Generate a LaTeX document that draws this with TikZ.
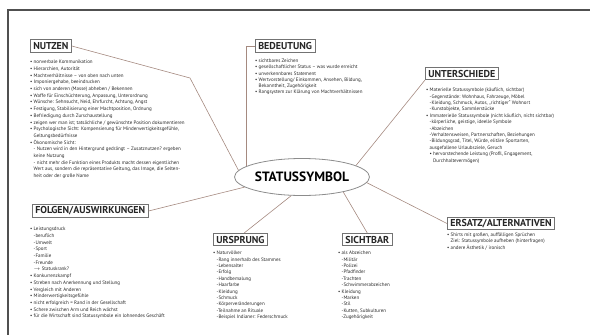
\documentclass[tikz,border=0pt]{standalone}
\usepackage{fontspec}
\setmainfont{PT Sans}
\usetikzlibrary{shapes.geometric,positioning}

\definecolor{linie}{RGB}{165,138,128}
\definecolor{rahmen}{RGB}{80,80,80}
\definecolor{schrift}{RGB}{40,40,40}

\newcommand{\pkt}[1]{\makebox[3.5pt][l]{\textbullet}#1}
\newcommand{\ein}[1]{\hspace*{3.5pt}#1}

\begin{document}
\begin{tikzpicture}[x=1pt,y=-1pt,
		titel/.style={draw=black!55, line width=0.6pt, fill=white, text=black!85, anchor=west,
			font=\bfseries\fontsize{10}{10}\selectfont, inner xsep=3pt, inner ysep=2pt, minimum height=12.5pt},
		liste/.style={font=\fontsize{5}{#1}\selectfont, text=schrift, align=left, anchor=north west, inner sep=0pt},
		liste/.default=6.4,
		ast/.style={draw=linie, line width=0.6pt},
		mitte/.style={ellipse, draw=black!45, line width=0.8pt, fill=white, minimum width=135pt, minimum height=37pt,
			inner sep=0pt, font=\bfseries\fontsize{13.5}{13.5}\selectfont}]

	\useasboundingbox (0,0) rectangle (590,335);

	% frame
	\draw [rahmen, line width=1.2pt] (8,335) -- (8,10) -- (590,10);

	% centre
	\node [mitte] (symbol) at (302,177) {\makebox[90pt]{STATUSSYMBOL}};

	% titles
	\node [titel] (nutzen) at (30,46) {NUTZEN};
	\node [titel] (bedeutung) at (255,46) {BEDEUTUNG};
	\node [titel] (unterschiede) at (425,73.5) {UNTERSCHIEDE};
	\node [titel] (folgen) at (32,211) {FOLGEN/AUSWIRKUNGEN};
	\node [titel] (ursprung) at (213,239.5) {URSPRUNG};
	\node [titel] (sichtbar) at (342,239.5) {SICHTBAR};
	\node [titel] (ersatz) at (447,223.5) {ERSATZ/ALTERNATIVEN};

	% branches
	\coordinate (nutzenknick) at (190,78);
	\draw [ast] (nutzen.east) -- (nutzenknick) -- (symbol.174);
	\draw [ast] (bedeutung.west) -| (symbol.169);
	\draw [ast] (unterschiede.south west) -- (symbol.12);
	\draw [ast] (symbol.-5) -- (ersatz.west);
	\draw [ast] (folgen.east) -- (symbol.190);
	\draw [ast] (ursprung.60) -- (symbol.240);
	\draw [ast] (sichtbar.north) -- (symbol.340);

	% lists
	\node [liste=6.7] (nutzenliste) at (30,60) {\pkt{nonverbale Kommunikation}\\
		\pkt{Hierarchien, Autorität}\\
		\pkt{Machtverhältnisse – von oben nach unten}\\
		\pkt{Imponiergehabe, beeindrucken}\\
		\pkt{sich von anderen (Masse) abheben / Bekennen}\\
		\pkt{Waffe für Einschüchterung, Anpassung, Unterordnung}\\
		\pkt{Wünsche: Sehnsucht, Neid, Ehrfurcht, Achtung, Angst}\\
		\pkt{Festigung, Stabilisierung einer Machtposition, Ordnung}\\
		\pkt{Befriedigung durch Zurschaustellung}\\
		\pkt{zeigen wer man ist; tatsächliche / gewünschte Position dokumentieren}\\
		\pkt{Psychologische Sicht: Kompensierung für Minderwertigkeitsgefühle,}\\
		\ein{Geltungsbedürfnisse}\\
		\pkt{Ökonomische Sicht:}\\
		\ein{- Nutzen wird in den Hintergrund gedrängt – Zusatznutzen? ergeben}\\
		\ein{keine Nutzung}\\
		\ein{- nicht mehr die Funktion eines Produkts macht dessen eigentlichen}\\
		\ein{Wert aus, sondern die repräsentative Geltung, das Image, die Selten-}\\
		\ein{heit oder der große Name}};

	\node [liste=6.2] (bedeutungliste) at (255,59) {\pkt{sichtbares Zeichen}\\
		\pkt{gesellschaftlicher Status – was wurde erreicht}\\
		\pkt{unverkennbares Statement}\\
		\pkt{Wertvorstellung/ Einkommen, Ansehen, Bildung,}\\
		\ein{Bekanntheit, Zugehörigkeit}\\
		\pkt{Rangsystem zur Klärung von Machtverhältnissen}};

	\node [liste] (unterschiedeliste) at (426,88) {\pkt{Materielle Statussymbole (käuflich, sichtbar)}\\
		\ein{-Gegenstände: Wohnhaus, Fahrzeuge, Möbel}\\
		\ein{-Kleidung, Schmuck, Autos, „richtiger“ Wohnort}\\
		\ein{-Kunstobjekte, Sammlerstücke}\\
		\pkt{Immaterielle Statussymbole (nicht käuflich, nicht sichtbar)}\\
		\ein{-körperliche, geistige, ideelle Symbole}\\
		\ein{-Abzeichen}\\
		\ein{-Verhaltensweisen, Partnerschaften, Beziehungen}\\
		\ein{-Bildungsgrad, Titel, Würde, elitäre Sportarten,}\\
		\ein{ausgefallene Urlaubsziele, Geruch}\\
		\ein{\pkt{hervorstechende Leistung (Profil, Engagement,}}\\
		\ein{\ein{Durchhaltevermögen)}}};

	\node [liste=6.7] (folgenliste) at (30,227) {\pkt{Leistungsdruck}\\
		\ein{-beruflich}\\
		\ein{-Umwelt}\\
		\ein{-Sport}\\
		\ein{-Familie}\\
		\ein{-Freunde}\\
		\ein{$\rightarrow$ Statuskrank?}\\
		\pkt{Konkurrenzkampf}\\
		\pkt{Streben nach Anerkennung und Stellung}\\
		\pkt{Vergleich mit Anderen}\\
		\pkt{Minderwertigkeitsgefühle}\\
		\pkt{nicht erfolgreich = Rand in der Gesellschaft}\\
		\pkt{Schere zwischen Arm und Reich wächst}\\
		\pkt{für die Wirtschaft sind Statussymbole ein lohnendes Geschäft}};

	\node [liste] (ursprungliste) at (213,251) {\pkt{Naturvölker}\\
		\ein{-Rang innerhalb des Stammes}\\
		\ein{-Lebensalter}\\
		\ein{-Erfolg}\\
		\ein{-Handbemalung}\\
		\ein{-Haarfarbe}\\
		\ein{-Kleidung}\\
		\ein{-Schmuck}\\
		\ein{-Körperveränderungen}\\
		\ein{-Teilnahme an Rituale}\\
		\ein{-Beispiel Indianer: Federschmuck}};

	\node [liste] (sichtbarliste) at (338,251) {\pkt{als Abzeichen}\\
		\ein{-Militär}\\
		\ein{-Polizei}\\
		\ein{-Pfadfinder}\\
		\ein{-Trachten}\\
		\ein{-Schwimmerabzeichen}\\
		\pkt{Kleidung}\\
		\ein{-Marken}\\
		\ein{-Stil}\\
		\ein{-Kutten, Subkulturen}\\
		\ein{-Zugehörigkeit}};

	\node [liste=6.2] (ersatzliste) at (447,233) {\pkt{Shirts mit großen, auffälligen Sprüchen}\\
		\ein{Ziel: Statussymbole aufheben (hinterfragen)}\\
		\pkt{andere Ästhetik / ironisch}};

\end{tikzpicture}
\end{document}
